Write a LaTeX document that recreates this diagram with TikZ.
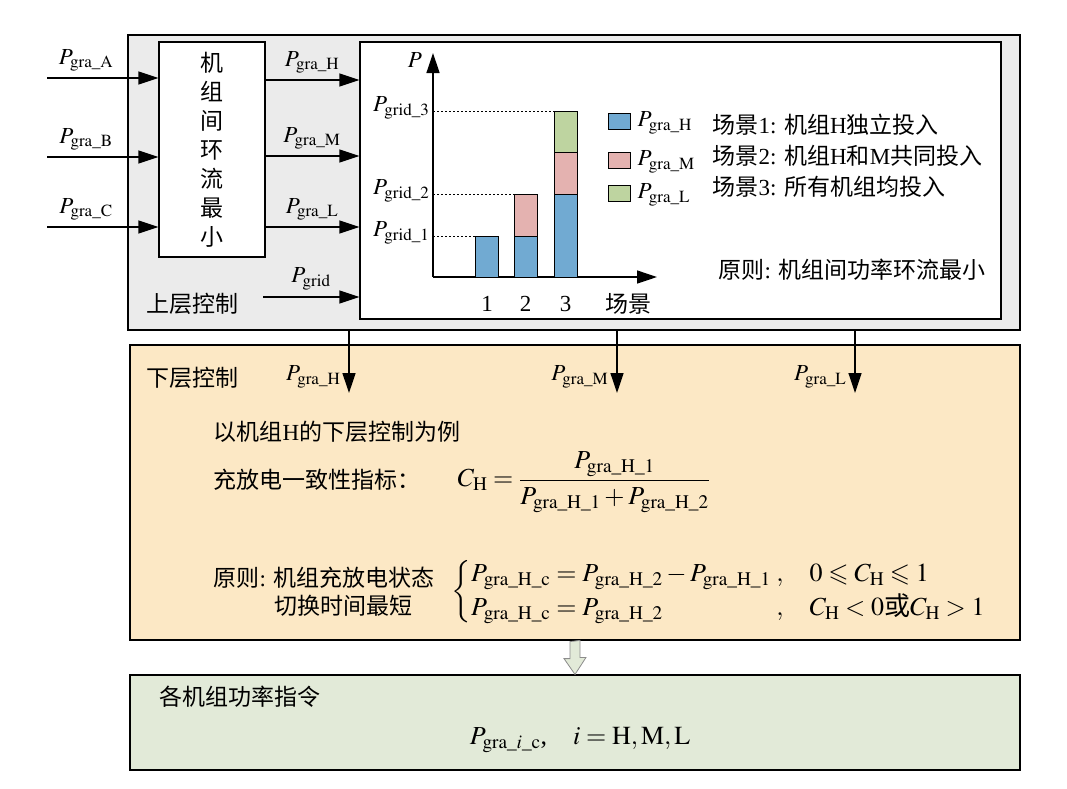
\documentclass[tikz,border=0pt]{standalone}
\usepackage{amsmath,amssymb}
\usepackage{mathptmx}
\usepackage{fontspec}
\setmainfont{Liberation Serif}
\newfontfamily\cjk{Noto Sans CJK SC}
\usetikzlibrary{arrows.meta,calc}
\definecolor{upgray}{RGB}{235,235,235}
\definecolor{lowor}{RGB}{252,232,197}
\definecolor{cmdgreen}{RGB}{226,234,216}
\definecolor{barH}{RGB}{113,170,210}
\definecolor{barM}{RGB}{228,178,176}
\definecolor{barL}{RGB}{190,212,160}
\newcommand\zh[1]{{\cjk #1}}
\newcommand\Pg[1]{P_{\mathrm{gra\_#1}}}
\newcommand\Pgrid[1]{P_{\mathrm{grid\_#1}}}
\tikzset{
  box/.style={draw, line width=1.2pt, inner sep=0pt},
  zh/.style={font=\fontsize{23}{29}\selectfont\cjk},
  eq/.style={font=\fontsize{26}{32}\selectfont},
}

\begin{document}
\begin{tikzpicture}[x=1pt, y=-1pt, >={Triangle[length=20pt,width=13pt]}, line width=1.3pt,
    every node/.style={font=\fontsize{23}{28}\selectfont, inner sep=1pt}]
  \useasboundingbox (0,0) rectangle (1067,788);
  % upper layer
  \node[box, fill=upgray, minimum width=892pt, minimum height=295pt] (upper) at (574,182.5) {};
  \node[box, fill=white, minimum width=106pt, minimum height=215pt, align=center, zh] (mix) at (212,149.5)
    {机\\组\\间\\环\\流\\最\\小};
  \node[box, fill=white, minimum width=641pt, minimum height=277pt] (chart) at (680.5,180.5) {};
  \foreach \n/\y in {A/78,B/157,C/227} {
    \coordinate (in\n) at (47,\y);
    \draw[->] (in\n) -- (in\n -| mix.west);
    \node[above=5pt] (lblin\n) at (86,\y) {$\Pg{\n}$};
  }
  \foreach \n/\y in {H/80,M/156,L/227} {
    \draw[->] (mix.east |- 0,\y) -- (chart.west |- 0,\y);
    \node[above=5pt] (lblout\n) at (312,\y) {$\Pg{\n}$};
  }
  \coordinate (gridin) at (263,297);
  \draw[->] (gridin) -- (gridin -| chart.west);
  \node[above=5pt] (lblgrid) at (311,297) {$P_{\mathrm{grid}}$};
  \node[zh] (uptitle) at (192,304) {上层控制};
  % chart
  \coordinate (o) at (433,277);
  \draw[->] (o) -- ++(0,-224);
  \draw[->] (o) -- ++(224,0);
  \node (pax) at (415,60) {$P$};
  \begin{scope}[line width=1pt]
    \draw[fill=barH] (475.5,277) rectangle (498.5,236);
    \draw[fill=barH] (514,277) rectangle (537,236);
    \draw[fill=barM] (514,236) rectangle (537,194);
    \draw[fill=barH] (554,277) rectangle (577,194);
    \draw[fill=barM] (554,194) rectangle (577,152);
    \draw[fill=barL] (554,152) rectangle (577,111);
  \end{scope}
  \foreach \i/\y/\x in {1/236/475.5,2/194/514,3/111/554} {
    \draw[line width=0.9pt, dash pattern=on 2pt off 2pt] (o |- 0,\y) -- (\x,\y);
    \node[anchor=east] (grid\i) at (431,\y-3) {$\Pgrid{\i}$};
  }
  \foreach \i/\x in {1/487,2/525.5,3/565.5}
    \node (tick\i) at (\x,304) {\i};
  \node[zh] (scen) at (628,304) {场景};
  \foreach \n/\y in {H/121,M/160,L/193} {
    \draw[line width=1pt, fill=bar\n] (608,\y-8) rectangle (630,\y+8);
    \node[anchor=west] (leg\n) at (636,\y+2) {$\Pg{\n}$};
  }
  \node[anchor=west] (sc1) at (711,125) {\zh{场景}1: \zh{机组}H\zh{独立投入}};
  \node[anchor=west] (sc2) at (711,156) {\zh{场景}2: \zh{机组}H\zh{和}M\zh{共同投入}};
  \node[anchor=west] (sc3) at (711,187) {\zh{场景}3: \zh{所有机组均投入}};
  \node[anchor=west] (uprule) at (717,270) {\zh{原则}: \zh{机组间功率环流最小}};
  % lower layer
  \node[box, fill=lowor, minimum width=890pt, minimum height=295pt] (lower) at (575,492.5) {};
  \foreach \n/\x in {H/349,M/617,L/855} {
    \coordinate (d\n) at (\x,393);
    \draw[->] (d\n |- upper.south) -- (d\n);
    \node[anchor=east] (lbld\n) at (\x-7,377) {$\Pg{\n}$};
  }
  \node[zh, anchor=west] (lowtitle) at (145,378) {下层控制};
  \node[anchor=west] (example) at (212,432) {\zh{以机组}H\zh{的下层控制为例}};
  \node[zh, anchor=west] (index) at (212,480) {充放电一致性指标：};
  \node[eq, anchor=west] (ch) at (456,482)
    {$C_{\mathrm{H}}=\dfrac{\Pg{H\_1}}{\Pg{H\_1}+\Pg{H\_2}}$};
  \node[anchor=west] (rule1) at (212,578) {\zh{原则}: \zh{机组充放电状态}};
  \node[zh] (rule2) at (343,606) {切换时间最短};
  \node[eq, anchor=west] (cases) at (450,592)
    {$\left\{\begin{array}{@{}l@{\;,\quad}l}
      \Pg{H\_c}=\Pg{H\_2}-\Pg{H\_1} & 0\leqslant C_{\mathrm{H}}\leqslant 1\\[2pt]
      \Pg{H\_c}=\Pg{H\_2} & C_{\mathrm{H}}<0\text{\cjk 或}C_{\mathrm{H}}>1
    \end{array}\right.$};
  % command
  \node[box, fill=cmdgreen, minimum width=890pt, minimum height=95pt] (cmd) at (575,722.5) {};
  \draw[fill=cmdgreen, draw=black!45, line width=0.8pt] ($(lower.south)+(-5,1)$) -- ++(0,17) -- ++(-6,0)
    -- (cmd.north) -- ++(11,-17) -- ++(-6,0) -- ++(0,-17) -- cycle;
  \node[zh, anchor=west] (cmdtitle) at (158,697) {各机组功率指令};
  \node[eq] (cmdeq) at (580,740) {$\Pg{\mathit{i}\_c}$,\quad $i=\mathrm{H,M,L}$};
\end{tikzpicture}
\end{document}
